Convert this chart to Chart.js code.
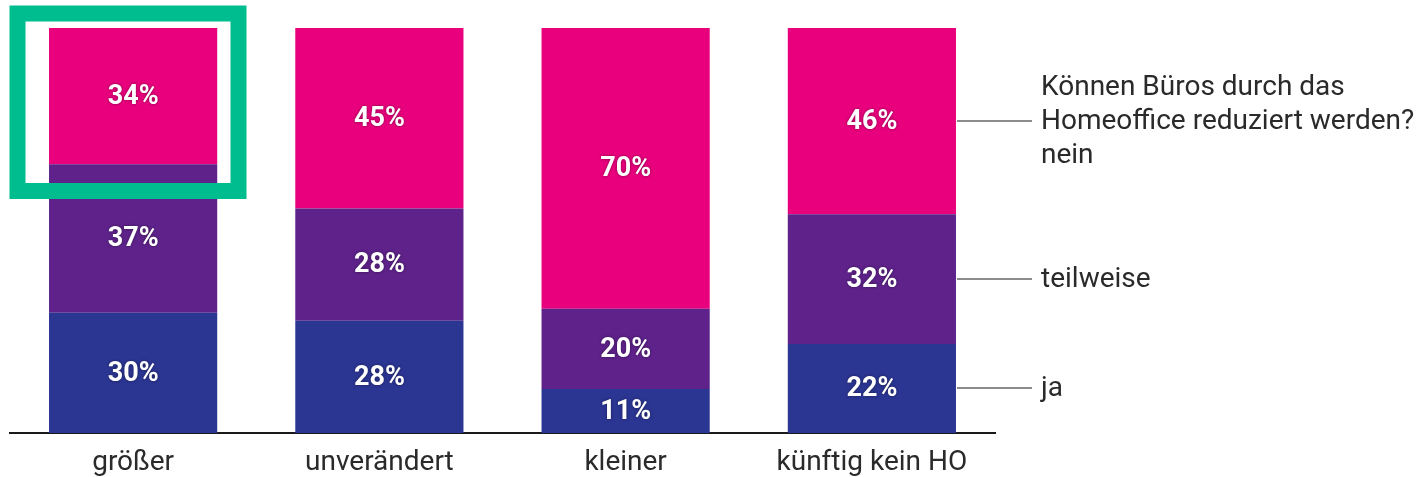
<!DOCTYPE html>
<html>
<head>
<meta charset="utf-8">
<script src="https://cdn.jsdelivr.net/npm/chart.js@4"></script>
<style>
  html, body { margin: 0; padding: 0; background: #fff; }
</style>
</head>
<body>
<canvas id="barChart" width="1425" height="477"></canvas>
<script>
// data
const categories = ['größer', 'unverändert', 'kleiner', 'künftig kein HO'];
const ja = [30, 28, 11, 22];
const teilweise = [37, 28, 20, 32];
const nein = [34, 45, 70, 46];
const seriesNames = [['ja'], ['teilweise'], ['Können Büros durch das', 'Homeoffice reduziert werden?', 'nein']];

// bars are drawn as share of each column's total (all columns are full height)
const totals = categories.map((c, i) => ja[i] + teilweise[i] + nein[i]);
const share = arr => arr.map((v, i) => v / totals[i] * 100);

const FONT = 'Roboto, "Noto Sans", sans-serif';

const segmentLabels = {
    id: 'segmentLabels',
    afterDatasetsDraw(chart) {
        const ctx = chart.ctx;
        ctx.save();
        ctx.font = 'bold 27px ' + FONT;
        ctx.fillStyle = '#ffffff';
        ctx.textAlign = 'center';
        ctx.textBaseline = 'middle';
        ctx.shadowColor = 'rgba(0,0,0,0.45)';
        ctx.shadowBlur = 3;
        chart.data.datasets.forEach((ds, i) => {
            chart.getDatasetMeta(i).data.forEach((bar, j) => {
                ctx.fillText(ds.values[j] + '%', bar.x, (bar.y + bar.base) / 2 + 1);
            });
        });
        ctx.restore();
    }
};

const sideLegend = {
    id: 'sideLegend',
    afterDraw(chart) {
        const ctx = chart.ctx;
        const last = categories.length - 1;
        ctx.save();
        chart.data.datasets.forEach((ds, i) => {
            const bar = chart.getDatasetMeta(i).data[last];
            const y = Math.round((bar.y + bar.base) / 2);
            ctx.strokeStyle = '#8c8c8c';
            ctx.lineWidth = 2;
            ctx.beginPath();
            ctx.moveTo(bar.x + bar.width / 2 + 1, y);
            ctx.lineTo(1032, y);
            ctx.stroke();

            const lines = seriesNames[i];
            ctx.font = '28px ' + FONT;
            ctx.fillStyle = '#2a2a2a';
            ctx.textAlign = 'left';
            ctx.textBaseline = 'middle';
            const mid = (lines.length - 1) / 2;
            lines.forEach((t, k) => ctx.fillText(t, 1041, y + 1 + (k - mid) * 34));
        });

        // green highlight frame round the first bar's top
        ctx.strokeStyle = '#00bd8f';
        ctx.lineWidth = 16;
        ctx.strokeRect(17.5, 13.5, 221, 177.5);
        ctx.restore();
    }
};

const CHART = document.getElementById('barChart');
let barChart = new Chart(CHART, {
    type: 'bar',
    data: {
        labels: categories,
        datasets: [{
            label: 'ja',
            values: ja,
            data: share(ja),
            backgroundColor: '#2b3592'
        }, {
            label: 'teilweise',
            values: teilweise,
            data: share(teilweise),
            backgroundColor: '#5e228a'
        }, {
            label: 'nein',
            values: nein,
            data: share(nein),
            backgroundColor: '#e8007c'
        }]
    },
    options: {
        responsive: false,
        animation: false,
        layout: { padding: { left: 10, right: 430, top: 28, bottom: 1 } },
        plugins: { legend: { display: false }, tooltip: { enabled: false } },
        datasets: { bar: { categoryPercentage: 1, barPercentage: 0.683, borderWidth: 0 } },
        scales: {
            x: {
                stacked: true,
                grid: { display: false },
                border: { display: true, color: '#1a1a1a', width: 2 },
                ticks: { color: '#2a2a2a', font: { family: FONT, size: 28 }, padding: 5 },
                afterFit: scale => { scale.height = 43; }
            },
            y: { stacked: true, display: false, min: 0, max: 100 }
        }
    },
    plugins: [segmentLabels, sideLegend]
});
</script>
</body>
</html>
